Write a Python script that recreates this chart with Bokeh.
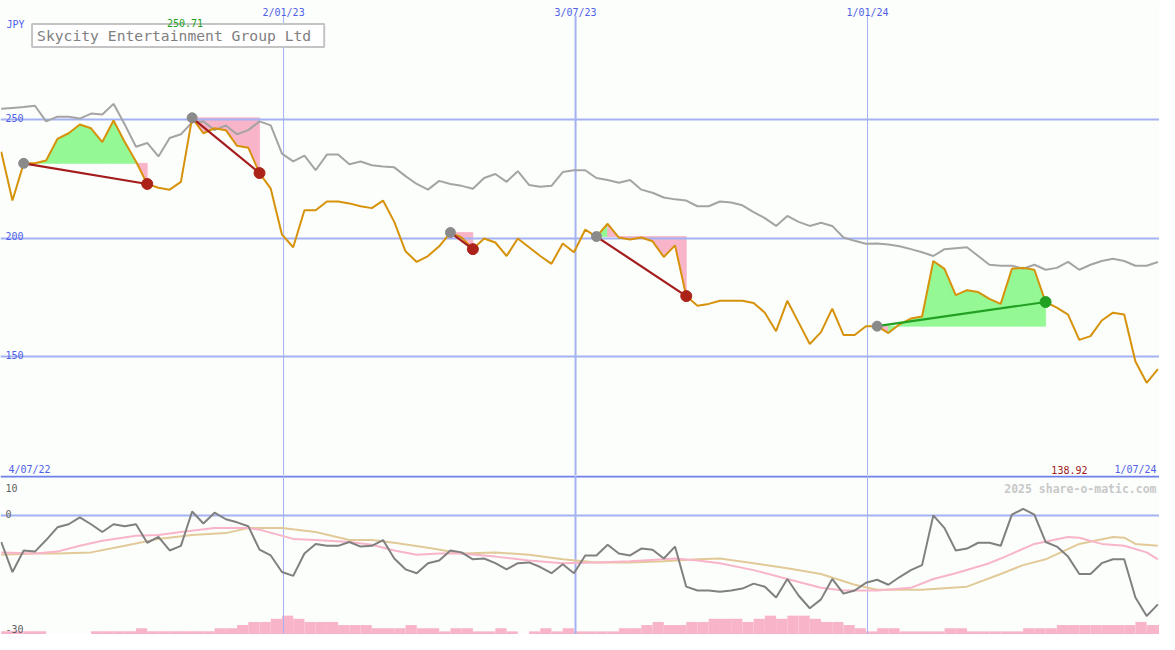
import pandas as pd
from bokeh.plotting import figure
from bokeh.layouts import column
from bokeh.models import Range1d, Label
from bokeh.core.properties import value
from bokeh.embed import file_html
from bokeh.resources import INLINE

# ---------------- data ----------------
first_week = "2022-07-10"
price = [236.4, 215.8, 231.5, 231.5, 232.7, 241.8, 244.2, 247.9, 246.3, 240.5,
         249.6, 240.5, 232.3, 222.8, 221.2, 220.4, 223.7, 250.71, 244.2, 246.3,
         245.5, 238.9, 238.1, 227.4, 220.8, 201.4, 196.1, 211.7, 211.7, 215.4,
         215.4, 214.6, 213.4, 212.6, 215.8, 206.8, 194.4, 189.9, 192.4, 196.5,
         202.3, 200.2, 195.3, 199.8, 198.1, 192.4, 199.8, 196.1, 192.4, 189.1,
         197.7, 194.0, 203.5, 200.6, 206.0, 200.2, 199.4, 200.2, 198.6, 192.0,
         196.9, 175.5, 171.4, 172.2, 173.5, 173.5, 173.5, 172.6, 168.5, 160.7,
         173.5, 164.4, 155.3, 160.3, 170.2, 159.1, 159.1, 162.8, 162.8, 159.9,
         163.6, 166.0, 166.9, 190.3, 187.0, 175.9, 178.0, 177.2, 174.3, 172.2,
         187.0, 187.4, 186.6, 173.0, 170.6, 167.7, 157.0, 158.6, 165.2, 168.5,
         167.7, 147.9, 138.92, 144.7]
compare = [254.5, 254.9, 255.3, 255.8, 249.2, 251.2, 251.2, 250.4, 252.5, 252.1,
           256.6, 247.9, 238.5, 240.1, 234.4, 242.2, 243.8, 248.8, 249.2, 245.5,
           247.5, 243.8, 245.5, 249.2, 247.5, 235.6, 232.3, 234.8, 228.6, 235.2,
           235.2, 231.1, 232.3, 230.7, 230.2, 229.8, 226.1, 222.8, 220.4, 224.1,
           222.8, 222.0, 220.8, 225.3, 227.0, 223.7, 228.2, 222.4, 221.6, 222.0,
           227.8, 228.6, 228.6, 225.3, 224.5, 223.3, 224.5, 220.4, 219.1, 217.1,
           216.3, 215.8, 213.4, 213.4, 215.4, 215.0, 213.8, 210.9, 208.4, 205.1,
           209.3, 206.8, 205.1, 206.4, 205.1, 200.2, 198.8, 197.6, 197.7, 197.3,
           196.5, 195.3, 194.0, 192.4, 195.3, 195.7, 196.1, 192.4, 188.7, 188.3,
           188.3, 187.0, 188.7, 186.6, 187.4, 189.9, 186.6, 188.7, 190.3, 191.2,
           190.3, 188.3, 188.3, 189.9]
momentum = [-7.0, -14.8, -9.2, -9.5, -6.5, -3.2, -2.4, -0.6, -2.4, -4.4,
            -2.4, -2.9, -2.4, -7.2, -5.7, -9.2, -8.0, 0.9, -2.2, 0.6,
            -1.1, -1.9, -2.9, -9.0, -10.5, -14.8, -15.8, -10.0, -7.5, -8.0,
            -8.0, -7.0, -8.2, -8.0, -6.5, -11.3, -14.1, -15.1, -12.5, -11.8,
            -9.2, -9.7, -11.5, -11.3, -12.5, -14.1, -12.5, -12.3, -13.5, -15.1,
            -12.8, -15.1, -10.5, -10.5, -7.7, -10.0, -10.5, -8.7, -9.0, -11.3,
            -8.2, -18.6, -19.6, -19.6, -19.9, -19.6, -19.1, -17.8, -18.6, -21.4,
            -16.6, -20.9, -24.2, -21.9, -16.6, -20.4, -19.6, -17.6, -16.8, -18.1,
            -16.1, -14.3, -13.0, -0.1, -3.4, -9.2, -8.7, -7.2, -7.2, -8.0,
            0.1, 1.6, 0.1, -7.0, -8.2, -10.8, -15.3, -15.3, -12.5, -11.5,
            -11.5, -21.4, -26.2, -23.2]
ma_fast_weeks = [0, 3, 5, 7, 9, 12, 14, 16, 19, 22, 23, 26, 28, 31, 33, 35, 37, 39, 41, 44,
                 47, 50, 53, 56, 59, 60, 62, 64, 67, 70, 73, 75, 78, 81, 83, 85, 88, 89, 92, 95,
                 96, 98, 100, 102, 103]
ma_fast = [-9.7, -10.0, -9.5, -8.0, -6.7, -5.4, -5.2, -4.4, -3.4, -3.4, -3.8, -6.2, -6.5, -7.0,
           -7.7, -9.2, -10.3, -10.0, -10.0, -10.8, -11.8, -12.5, -12.3, -12.0, -11.5, -11.3,
           -11.8, -12.5, -14.3, -16.6, -18.9, -19.6, -19.6, -18.9, -16.6, -15.1, -12.5, -11.3,
           -7.5, -5.7, -5.9, -7.5, -8.0, -9.7, -11.5]
ma_slow_weeks = [0, 3, 5, 8, 11, 14, 17, 20, 22, 25, 28, 31, 33, 35, 38, 41, 44, 47, 50, 53,
                 56, 59, 62, 64, 67, 70, 73, 76, 78, 82, 86, 89, 91, 93, 96, 99, 100, 101, 103]
ma_slow = [-10.3, -10.0, -10.0, -9.7, -8.0, -6.2, -5.2, -4.7, -3.4, -3.4, -4.4, -6.5, -6.5,
           -7.2, -8.5, -10.0, -9.7, -10.3, -11.5, -12.3, -12.3, -12.0, -11.5, -11.3, -12.5,
           -13.8, -15.3, -18.1, -19.4, -19.4, -18.6, -15.3, -13.0, -11.5, -7.5, -5.7, -5.9,
           -7.5, -8.0]
volume_level = [1, 1, 1, 1, 0, 0, 0, 0, 1, 1,
                1, 1, 2, 1, 1, 1, 1, 1, 1, 2,
                2, 3, 4, 4, 5, 6, 5, 4, 4, 4,
                3, 3, 3, 2, 2, 2, 3, 2, 2, 1,
                2, 2, 1, 1, 2, 1, 0, 1, 2, 1,
                2, 1, 1, 1, 1, 2, 2, 3, 4, 3,
                3, 4, 4, 5, 5, 5, 4, 5, 6, 5,
                6, 6, 5, 4, 4, 3, 2, 1, 2, 2,
                1, 1, 1, 1, 2, 2, 1, 1, 1, 1,
                1, 2, 2, 2, 3, 3, 3, 3, 3, 3,
                3, 4, 3, 3]
trade_entry = [2, 17, 40, 53, 78]
trade_exit = [13, 23, 42, 61, 93]
grid_dates = ["2023-01-02", "2023-07-03", "2024-01-01"]
grid_labels = ["2/01/23", "3/07/23", "1/01/24"]
grid_widths = [1, 2, 1]
price_ticks = [250, 200, 150]
osc_ticks = [10, 0, -30]
range_labels = ["4/07/22", "1/07/24"]
title_text = "Skycity Entertainment Group Ltd"
currency = "JPY"
credit = "2025 share-o-matic.com"

# ---------------- layout / style ----------------
W, H = 1159, 634
H1 = round(H * 487 / 650)
H2 = H - H1
FONT = "DejaVu Sans Mono"
BG = "#fcfefc"
GRID = "#a4b2f2"
SEP = "#6f7fe9"
BLUE = "#5060e8"
ORANGE = "#d6920a"
GREY = "#a4a4a4"
DARK = "#808080"
PINK = "#f8b4c8"
TAN = "#e2ca98"
GREEN_FILL = "#94f894"
RED = "#a41c1c"
GREEN = "#22a022"


def ms(t):
    return pd.Timestamp(t).value / 1e6


X0 = pd.Timestamp("2022-07-09 13:00")
X1 = pd.Timestamp("2024-07-01")


def xd(xr):  # reference pixel x -> datetime ms
    return ms(X0) + (ms(X1) - ms(X0)) * xr / 1175.0


def yp(yr):  # reference pixel y -> price (top panel)
    return 250 - (yr - 122) / 2.43


def yo(yr):  # reference pixel y -> oscillator (bottom panel)
    return (527.5 - yr) / 3.95


dates = [ms(d) for d in pd.date_range(first_week, periods=len(price), freq="7D")]
week = dates[1] - dates[0]
gx = [ms(d) for d in grid_dates]

xr = Range1d(ms(X0), ms(X1))

# ---------------- top panel ----------------
p = figure(width=W, height=H1, x_range=xr, y_range=Range1d(yp(487), yp(0)),
           x_axis_type="datetime", x_axis_location=None, y_axis_location=None,
           output_backend="svg", toolbar_location=None, min_border=0)
p.grid.visible = False
p.outline_line_color = None
p.background_fill_color = BG
p.border_fill_color = BG

# trade fills
fxs, fys, fcs = [], [], []
for e, x in zip(trade_entry, trade_exit):
    lvl = price[e]
    for k in range(e, x):
        fxs.append([dates[k], dates[k], dates[k + 1], dates[k + 1]])
        fys.append([lvl, price[k], price[k + 1], lvl])
        fcs.append(GREEN_FILL if price[k + 1] >= lvl else PINK)
p.patches(fxs, fys, fill_color=fcs, line_color=fcs, line_width=0.8)

# grid
p.hspan(y=price_ticks, line_color=GRID, line_width=2)
p.segment(x0=gx, y0=[yp(487)] * 3, x1=gx, y1=[yp(16)] * 3, line_color=GRID, line_width=grid_widths)

# lines
p.line(dates, compare, line_color=GREY, line_width=2)
p.line(dates, price, line_color=ORANGE, line_width=2)

# trades
ex = [dates[i] for i in trade_entry]
ey = [price[i] for i in trade_entry]
xx = [dates[i] for i in trade_exit]
xy = [price[i] for i in trade_exit]
tc = [GREEN if price[b] > price[a] else RED for a, b in zip(trade_entry, trade_exit)]
p.segment(x0=ex, y0=ey, x1=xx, y1=xy, line_color=tc, line_width=2.2)
p.scatter(ex, ey, size=10, color="#8a8a8a")
p.scatter(xx, xy, size=11, color=[("#22a022" if c == GREEN else "#ac2218") for c in tc])

# texts
p.text(x=[xd(5)] * 3, y=[t + 2 / 2.43 for t in price_ticks], text=[str(t) for t in price_ticks],
       text_font=value(FONT), text_font_size="10px", text_color=BLUE,
       text_baseline="alphabetic", text_align="left")
p.text(x=gx, y=[yp(12.5)] * 3, text=grid_labels, text_font=value(FONT), text_font_size="10px",
       text_color=BLUE, text_baseline="alphabetic", text_align="center")
p.add_layout(Label(x=xd(8), y=yp(481), text=range_labels[0], text_font=FONT, text_font_size="10px",
                   text_color=BLUE, text_baseline="alphabetic", text_align="left"))
p.add_layout(Label(x=xd(1172), y=yp(481), text=range_labels[1], text_font=FONT, text_font_size="10px",
                   text_color=BLUE, text_baseline="alphabetic", text_align="right"))
p.add_layout(Label(x=xd(1102), y=yp(481), text=f"{min(price):.2f}", text_font=FONT,
                   text_font_size="10px", text_color="#a01818", text_baseline="alphabetic",
                   text_align="right"))
p.add_layout(Label(x=xd(32), y=yp(36), text=title_text, text_font=FONT, text_font_size="14.7px",
                   text_color="#808080", text_baseline="middle", text_align="left",
                   padding=dict(left=5, right=13, top=3, bottom=3), border_line_color="#c4c4c4",
                   border_line_width=2, background_fill_color="#ffffff"))
p.add_layout(Label(x=xd(187), y=yp(23.5), text=f"{max(price):.2f}", text_font=FONT,
                   text_font_size="10px", text_color="#20a020", text_baseline="alphabetic",
                   text_align="center"))
p.add_layout(Label(x=xd(6), y=yp(25), text=currency, text_font=FONT, text_font_size="10px",
                   text_color=BLUE, text_baseline="alphabetic", text_align="left"))

# ---------------- bottom panel ----------------
q = figure(width=W, height=H2, x_range=xr, y_range=Range1d(yo(650), yo(487)),
           x_axis_type="datetime", x_axis_location=None, y_axis_location=None,
           output_backend="svg", toolbar_location=None, min_border=0)
q.grid.visible = False
q.outline_line_color = None
q.background_fill_color = BG
q.border_fill_color = BG
q.extra_y_ranges = {"vol": Range1d(0, 162 / 3.2)}

q.quad(left=dates, right=[d + week for d in dates], bottom=0, top=volume_level,
       y_range_name="vol", fill_color=PINK, line_color=None)
q.hspan(y=[0], line_color=GRID, line_width=2)
q.hspan(y=[10], line_color=SEP, line_width=2)
q.vspan(x=gx, line_color=GRID, line_width=grid_widths)

q.line([dates[i] for i in ma_slow_weeks], ma_slow, line_color=TAN, line_width=2)
q.line([dates[i] for i in ma_fast_weeks], ma_fast, line_color=PINK, line_width=2)
q.line(dates, momentum, line_color=DARK, line_width=2)

q.text(x=[xd(5)] * 3, y=[yo(500), yo(526), yo(644)], text=[str(t) for t in osc_ticks],
       text_font=value(FONT), text_font_size="10px", text_color="#606060",
       text_baseline="alphabetic", text_align="left")
q.add_layout(Label(x=xd(1172), y=yo(501), text=credit, text_font=FONT, text_font_size="11.5px",
                   text_font_style="bold", text_color="#c8c8c8", text_baseline="alphabetic",
                   text_align="right"))

layout = column(p, q, spacing=0)
open("out.html", "w").write(file_html(layout, INLINE))
